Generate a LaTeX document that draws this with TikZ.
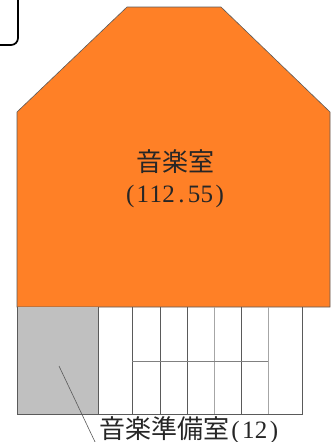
\documentclass[tikz,border=0pt]{standalone}
\usepackage{fontspec}
\setmainfont{Liberation Serif}
\newfontfamily\cjk{Noto Sans CJK JP}
\definecolor{roomorange}{RGB}{255,128,38}
\definecolor{roomgray}{RGB}{192,192,192}
\definecolor{edgegray}{RGB}{90,90,90}
\newcommand{\hw}[1]{\makebox[12.8pt]{#1}}
\tikzset{
  roomtext/.style={inner sep=0pt, font=\fontsize{25}{26}\selectfont, text=black!85},
  stairline/.style={draw=edgegray, line width=1pt}
}

\begin{document}
\begin{tikzpicture}[x=1pt, y=-1pt]
    \useasboundingbox (0,0) rectangle (336,442);

    % Define points
    \def\wall{17}
    \def\floor{307}
    \def\base{414}

    % Title box cut by the page edge
    \draw[line width=1.7pt, rounded corners=7pt] (-10,45) -- (18,45) -- (18,-10);

    % Music room
    \fill[roomorange, draw=edgegray, line width=0.6pt] (127,7) -- (221,7) -- (330,112) -- (330,\floor) -- (\wall,\floor) -- (\wall,112) -- cycle;
    \node[roomtext, align=center] (music) at (175,179) {{\cjk\fontsize{26}{26}\selectfont 音楽室}\\[5pt]\hw{(}\hw{1}\hw{1}\hw{2}\hw{.}\hw{5}\hw{5}\hw{)}};

    % Preparation room
    \fill[roomgray] (\wall,\floor) rectangle (98,\base);
    \draw[stairline] (\wall,\floor) -- (\wall,\base) -- (302,\base) -- (302,\floor);

    % Stairs
    \foreach \x in {98, 132, 160, 187, 241, 302} {
        \draw[stairline] (\x,\floor) -- (\x,\base);
    }
    \foreach \x in {214, 268} {
        \draw[stairline, draw=black!35] (\x,\floor) -- (\x,\base);
    }
    \draw[stairline, draw=black!50, line width=0.8pt] (132,361) -- (268,361);

    % Label and its leader
    \node[roomtext, anchor=base west] (prep) at (99,438) {{\cjk\fontsize{26}{26}\selectfont 音楽準備室}\hw{(}\hw{1}\hw{2}\hw{)}};
    \coordinate (leadstart) at (59,366);
    \coordinate (leadend) at (96,444);
    \draw[edgegray, line width=0.6pt] (leadstart) -- (leadend);
\end{tikzpicture}
\end{document}
